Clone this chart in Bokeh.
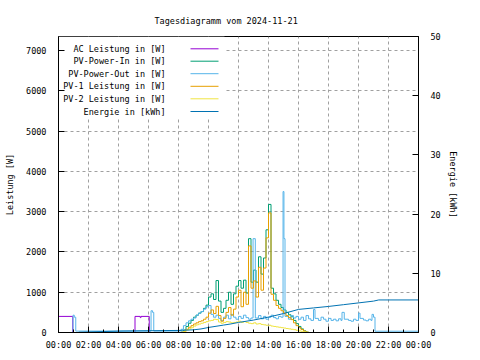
from bokeh.plotting import figure
from bokeh.models import Range1d, LinearAxis, FixedTicker, Label, BoxAnnotation
from bokeh.embed import file_html
from bokeh.resources import INLINE

# ---------------- data ----------------
title_text = "Tagesdiagramm vom 2024-11-21"
series_names = ["AC Leistung in [W]", "PV-Power-In in [W]", "PV-Power-Out in [W]",
                "PV-1 Leistung in [W]", "PV-2 Leistung in [W]", "Energie in [kWh]"]
series_colors = ["#9400d3", "#009e73", "#56b4e9", "#e69f00", "#f0e442", "#0072b2"]

x_ticks = [0, 2, 4, 6, 8, 10, 12, 14, 16, 18, 20, 22, 24]
x_tick_labels = ["00:00", "02:00", "04:00", "06:00", "08:00", "10:00", "12:00",
                 "14:00", "16:00", "18:00", "20:00", "22:00", "00:00"]
y_ticks = [0, 1000, 2000, 3000, 4000, 5000, 6000, 7000]
y2_ticks = [0, 10, 20, 30, 40, 50]

# AC Leistung [W]
ac_t = [0.0, 0.95, 5.1, 5.45, 5.5, 6.05]
ac_w = [400, 0, 400, 370, 400, 0]

# daytime samples (hours, 10-minute steps 08:00 .. 17:00)
day_t = [8 + i / 6 for i in range(55)]
pv_in_w = [0, 10, 60, 150, 230, 300, 380, 430, 480, 520, 600, 680,
           880, 960, 820, 1290, 780, 500, 600, 800, 1000, 700, 960, 1150,
           1290, 1100, 1300, 980, 2330, 1250, 1550, 1250, 1880, 1450, 1850, 2550,
           3180, 1100, 960, 800, 700, 620, 560, 500, 440, 390, 300, 220,
           150, 90, 40, 10, 0, 0, 0]
pv1_w = [0, 5, 25, 80, 130, 170, 210, 240, 270, 290, 330, 380,
         480, 560, 470, 650, 420, 280, 350, 500, 620, 430, 580, 880,
         1050, 640, 1000, 700, 2150, 1100, 1280, 880, 1620, 1050, 1600, 2350,
         2970, 950, 800, 670, 600, 540, 480, 420, 370, 320, 240, 170,
         120, 75, 35, 10, 0, 0, 0]
pv2_w = [0, 0, 30, 60, 90, 120, 160, 190, 210, 230, 250, 270,
         290, 300, 330, 320, 260, 230, 250, 270, 260, 240, 250, 260,
         280, 250, 270, 250, 230, 220, 240, 210, 220, 200, 190, 180,
         180, 160, 150, 140, 130, 120, 110, 100, 90, 80, 70, 55,
         40, 30, 15, 5, 0, 0, 0]

# PV-Power-Out [W]
pv_out_t = [0.0, 0.97, 1.05, 1.15, 6.17, 6.27, 6.35,
            8.0, 8.17, 8.33, 8.5, 8.67, 8.83, 9.0, 9.17, 9.33, 9.5, 9.67, 9.83,
            10.0, 10.17, 10.33, 10.5, 10.67, 10.83, 11.0, 11.17, 11.33, 11.5, 11.67, 11.83,
            12.0, 12.17, 12.33, 12.5, 12.67, 12.83, 12.97, 13.12, 13.33, 13.5, 13.67, 13.83,
            14.0, 14.17, 14.33, 14.5, 14.67, 14.83, 14.97, 15.03, 15.1, 15.33, 15.5, 15.67, 15.83,
            16.0, 16.17, 16.33, 16.5, 16.67, 16.83, 17.0, 17.1, 17.33, 17.5, 17.67, 17.83,
            18.0, 18.17, 18.33, 18.5, 18.67, 18.83, 18.9, 19.05, 19.33, 19.5, 19.67, 19.83,
            20.0, 20.1, 20.33, 20.5, 20.67, 20.83, 20.9, 21.0, 21.1, 24.0]
pv_out_w = [0, 430, 380, 35, 540, 500, 35,
            40, 80, 170, 240, 290, 330, 360, 430, 480, 520, 580, 640,
            670, 450, 380, 430, 350, 300, 380, 430, 340, 450, 380, 330,
            400, 350, 430, 370, 330, 360, 2330, 360, 420, 340, 400, 330,
            380, 430, 370, 340, 400, 380, 3500, 2330, 400, 330, 420, 360, 400,
            330, 380, 300, 420, 340, 300, 570, 350, 300, 380, 330, 280,
            350, 300, 330, 290, 340, 300, 500, 330, 300, 280, 330, 300,
            480, 350, 310, 290, 330, 300, 450, 380, 32, 32]

# Energie [kWh]
energy_t = [1.35, 4.3, 8.0, 9.0, 9.5, 10.0, 10.5, 11.0, 11.5, 12.0, 12.5, 13.0, 13.5,
            14.0, 14.5, 15.0, 15.5, 16.0, 17.0, 18.0, 19.0, 20.0, 21.0, 21.35, 24.0]
energy_kwh = [0.05, 0.25, 0.35, 0.45, 0.6, 0.85, 1.05, 1.25, 1.45, 1.7, 1.9, 2.1, 2.35,
              2.6, 2.9, 3.2, 3.55, 3.9, 4.15, 4.4, 4.7, 5.0, 5.3, 5.5, 5.5]

# ---------------- layout ----------------
FONT = "DejaVu Sans Mono"
FS = "8.5px"
X0, X1, Y0, Y1 = 0, 24, 0, 7350
FW, FH = 360, 296

p = figure(width=480, height=360, output_backend="svg", toolbar_location=None,
           x_range=Range1d(X0, X1), y_range=Range1d(Y0, Y1),
           min_border_left=58, min_border_right=62, min_border_top=36, min_border_bottom=28)
p.extra_y_ranges = {"energy": Range1d(0, 50)}
p.background_fill_color = "white"
p.border_fill_color = "white"
p.outline_line_color = "black"
p.outline_line_alpha = 1.0
p.outline_line_width = 1

p.title.text = title_text
p.title.align = "left"
p.title.offset = 96
p.title.text_font = FONT
p.title.text_font_size = FS
p.title.text_font_style = "normal"
p.title.text_color = "black"
p.title.standoff = 21

def style_axis(ax):
    ax.major_label_text_font = FONT
    ax.major_label_text_font_size = FS
    ax.major_label_text_color = "black"
    ax.axis_label_text_font = FONT
    ax.axis_label_text_font_size = FS
    ax.axis_label_text_font_style = "normal"
    ax.axis_label_text_color = "black"
    ax.axis_line_color = "black"
    ax.major_tick_line_color = "black"
    ax.minor_tick_line_color = "black"
    ax.major_tick_in = 6
    ax.major_tick_out = 0
    ax.minor_tick_in = 3
    ax.minor_tick_out = 0

xax = p.xaxis[0]
xax.ticker = FixedTicker(ticks=x_ticks, minor_ticks=[t + 1 for t in x_ticks[:-1]])
xax.major_label_overrides = {t: lab for t, lab in zip(x_ticks, x_tick_labels)}
style_axis(xax)
xax.major_label_standoff = 7

yax = p.yaxis[0]
yax.ticker = FixedTicker(ticks=y_ticks, minor_ticks=[])
yax.axis_label = "Leistung [W]"
style_axis(yax)
yax.major_label_standoff = 12
yax.axis_label_standoff = 8

y2 = LinearAxis(y_range_name="energy", ticker=FixedTicker(ticks=y2_ticks, minor_ticks=[]),
                axis_label="Energie [kWh]")
style_axis(y2)
y2.major_label_standoff = 12
y2.axis_label_standoff = 4
p.add_layout(y2, "right")

for g in (p.xgrid[0], p.ygrid[0]):
    g.grid_line_color = "#a0a0a0"
    g.grid_line_dash = "3 3"
    g.grid_line_width = 1
p.xgrid[0].ticker = FixedTicker(ticks=x_ticks)
p.ygrid[0].ticker = FixedTicker(ticks=y_ticks)

# frame pixel -> data helpers (for the key only)
def fx(px):
    return X0 + px * (X1 - X0) / FW

def fy(py_top):
    return Y0 + (FH - py_top) * (Y1 - Y0) / FH

# opaque key background
p.add_layout(BoxAnnotation(left=fx(0), right=fx(166), top=fy(0), bottom=fy(82),
                           fill_color="white", fill_alpha=1.0, line_alpha=0,
                           level="underlay"))

# ---------------- data lines ----------------
p.step(ac_t, ac_w, mode="after", line_color=series_colors[0], line_width=1)
p.step(day_t, pv_in_w, mode="after", line_color=series_colors[1], line_width=1)
p.step(pv_out_t, pv_out_w, mode="after", line_color=series_colors[2], line_width=1)
p.step(day_t, pv1_w, mode="after", line_color=series_colors[3], line_width=1)
p.step(day_t, pv2_w, mode="after", line_color=series_colors[4], line_width=1)
p.line(energy_t, energy_kwh, y_range_name="energy", line_color=series_colors[5], line_width=1)

# ---------------- key (gnuplot style: text then sample) ----------------
row_y = [12.3, 24.7, 37.2, 49.8, 62.3, 75.0]
for name, col, ry in zip(series_names, series_colors, row_y):
    p.add_layout(Label(x=fx(107), y=fy(ry), text=name, text_align="right",
                       text_baseline="middle", text_font=FONT, text_font_size=FS,
                       text_color="black"))
    p.segment(x0=[fx(132)], y0=[fy(ry)], x1=[fx(160)], y1=[fy(ry)],
              line_color=col, line_width=1)

open("out.html", "w").write(file_html(p, INLINE))
